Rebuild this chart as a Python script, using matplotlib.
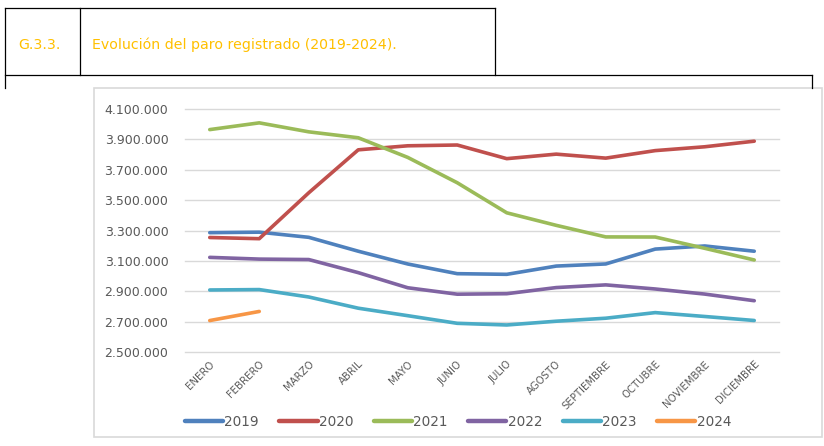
import matplotlib
matplotlib.use("Agg")
import matplotlib.pyplot as plt
from matplotlib.lines import Line2D
from matplotlib.patches import Rectangle
from matplotlib.ticker import FuncFormatter

# Paro registrado (personas), por mes
meses = ["ENERO", "FEBRERO", "MARZO", "ABRIL", "MAYO", "JUNIO", "JULIO",
         "AGOSTO", "SEPTIEMBRE", "OCTUBRE", "NOVIEMBRE", "DICIEMBRE"]

paro_2019 = [3285761, 3289040, 3255084, 3163566, 3079491, 3015686,
             3011433, 3065804, 3079711, 3177659, 3198184, 3163605]
paro_2020 = [3253853, 3246047, 3548312, 3831203, 3857776, 3862883,
             3773034, 3802814, 3776485, 3826043, 3851312, 3888137]
paro_2021 = [3964353, 4008789, 3949640, 3910628, 3781250, 3614339,
             3416498, 3333915, 3257802, 3257068, 3182687, 3105905]
paro_2022 = [3123078, 3111684, 3108763, 3022503, 2922991, 2880582,
             2883812, 2924240, 2941919, 2914892, 2881380, 2837653]
paro_2023 = [2908397, 2911015, 2862260, 2788370, 2739110, 2688842,
             2677874, 2702700, 2722468, 2759404, 2733820, 2707456]
paro_2024 = [2707000, 2767000]

y_ticks = [2500000, 2700000, 2900000, 3100000, 3300000, 3500000,
           3700000, 3900000, 4100000]

series = [("2019", paro_2019, "#4F81BD"),
          ("2020", paro_2020, "#C0504D"),
          ("2021", paro_2021, "#9BBB59"),
          ("2022", paro_2022, "#8064A2"),
          ("2023", paro_2023, "#4BACC6"),
          ("2024", paro_2024, "#F79646")]

W, H = 824, 446
fig = plt.figure(figsize=(W / 100, H / 100), dpi=100)
fig.patch.set_facecolor("white")

def fx(px):
    return px / W

def fy(py):
    return 1 - py / H

# header table
tabla = "black"
for (x0, y0, x1, y1) in [(5, 8, 495, 8), (5, 8, 5, 88), (80, 8, 80, 75),
                         (495, 8, 495, 75), (5, 75, 812, 75), (812, 75, 812, 88)]:
    fig.add_artist(Line2D([fx(x0), fx(x1)], [fy(y0), fy(y1)], color=tabla, lw=0.9))

amarillo = "#FFC000"
fig.text(fx(18), fy(45), "G.3.3.", color=amarillo, fontsize=10.2, va="center")
fig.text(fx(92), fy(45), "Evolución del paro registrado (2019-2024).",
         color=amarillo, fontsize=10.2, va="center")

# chart frame (behind the axes)
marco = Rectangle((fx(94), fy(437)), fx(822) - fx(94), fy(88) - fy(437),
                  facecolor="white", edgecolor="#D9D9D9", lw=1.2, zorder=-1)
fig.add_artist(marco)

ax = fig.add_axes([fx(185), fy(352), fx(779) - fx(185), fy(109) - fy(352)])
ax.set_zorder(2)
ax.set_facecolor("none")

for nombre, valores, color in series:
    ax.plot(range(len(valores)), valores, color=color, lw=2.6,
            solid_capstyle="round", label=nombre)

ax.set_xlim(-0.5, len(meses) - 0.5)
ax.set_ylim(y_ticks[0], y_ticks[-1])
ax.set_yticks(y_ticks)
ax.yaxis.set_major_formatter(FuncFormatter(lambda v, p: f"{v:,.0f}".replace(",", ".")))
ax.grid(axis="y", color="#D9D9D9", lw=1)
ax.set_axisbelow(True)
for gl in ax.get_ygridlines():
    gl.set_clip_on(False)
for s in ax.spines.values():
    s.set_visible(False)

gris = "#595959"
ax.set_xticks(range(len(meses)))
ax.set_xticklabels(meses, rotation=45, ha="right", rotation_mode="anchor",
                   fontsize=7.3, color=gris)
ax.tick_params(axis="both", length=0)
ax.tick_params(axis="y", labelsize=9, labelcolor=gris, pad=12)
ax.tick_params(axis="x", pad=5)

leg = fig.legend(loc="center", bbox_to_anchor=(fx(458), fy(422)), ncol=6, frameon=False,
                 fontsize=9.8, handlelength=2.8, columnspacing=1.5, handletextpad=0.1,
                 labelcolor=gris)
for linea in leg.get_lines():
    linea.set_linewidth(3.2)

fig.savefig("out.png", dpi=100)
